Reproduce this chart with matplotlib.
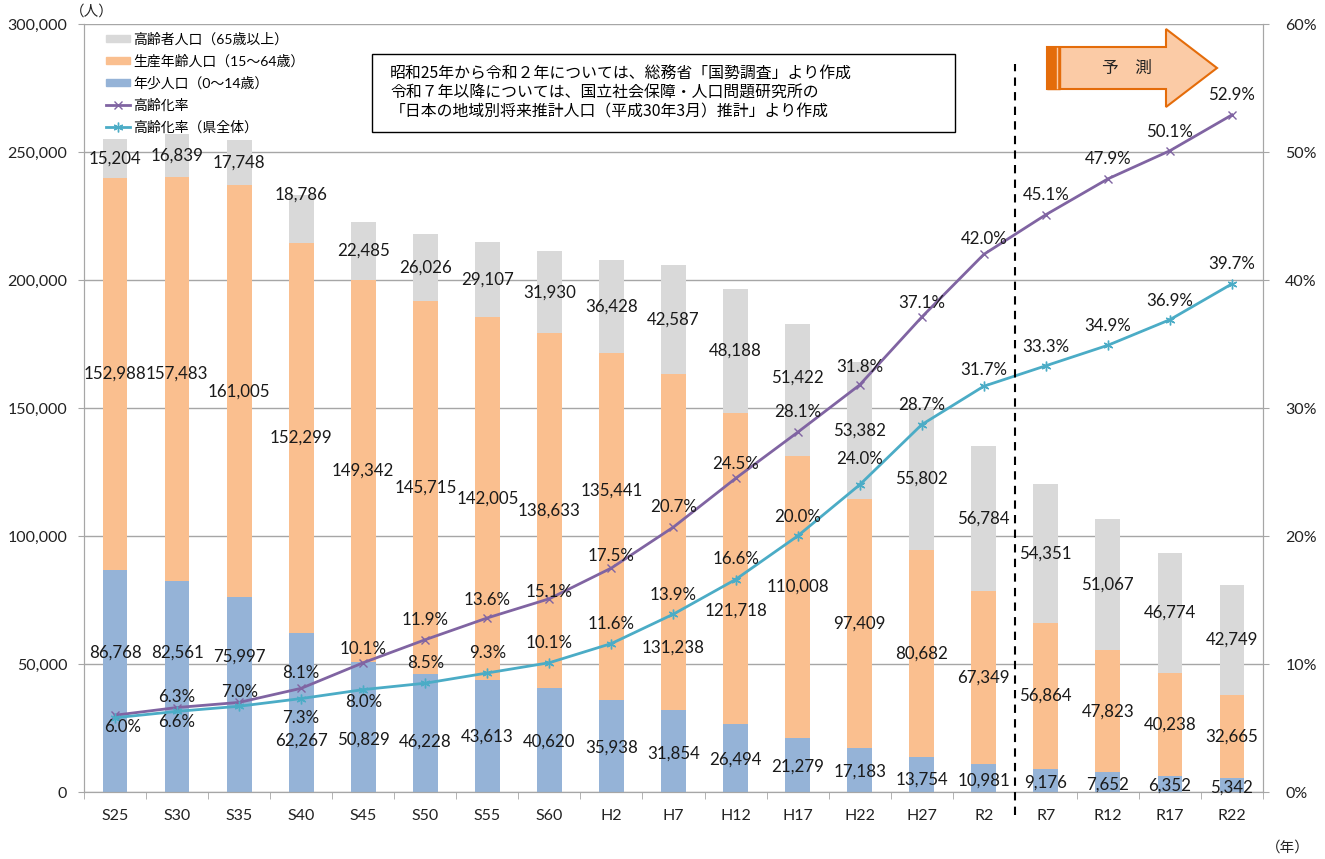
import matplotlib
matplotlib.use('Agg')
import matplotlib.pyplot as plt
import numpy as np
from matplotlib.patches import Patch, Polygon, Rectangle
from matplotlib.lines import Line2D
from matplotlib.ticker import FuncFormatter, FixedLocator

plt.rcParams['font.family'] = ['Lato', 'Noto Sans CJK JP', 'DejaVu Sans']

# data
categories = ['S25', 'S30', 'S35', 'S40', 'S45', 'S50', 'S55', 'S60', 'H2', 'H7',
              'H12', 'H17', 'H22', 'H27', 'R2', 'R7', 'R12', 'R17', 'R22']
young = [86768, 82561, 75997, 62267, 50829, 46228, 43613, 40620, 35938, 31854,
         26494, 21279, 17183, 13754, 10981, 9176, 7652, 6352, 5342]
working = [152988, 157483, 161005, 152299, 149342, 145715, 142005, 138633, 135441, 131238,
           121718, 110008, 97409, 80682, 67349, 56864, 47823, 40238, 32665]
elderly = [15204, 16839, 17748, 18786, 22485, 26026, 29107, 31930, 36428, 42587,
           48188, 51422, 53382, 55802, 56784, 54351, 51067, 46774, 42749]
rate = [6.0, 6.6, 7.0, 8.1, 10.1, 11.9, 13.6, 15.1, 17.5, 20.7,
        24.5, 28.1, 31.8, 37.1, 42.0, 45.1, 47.9, 50.1, 52.9]
rate_pref = [5.8, 6.3, 6.7, 7.3, 8.0, 8.5, 9.3, 10.1, 11.6, 13.9,
             16.6, 20.0, 24.0, 28.7, 31.7, 33.3, 34.9, 36.9, 39.7]
pref_labelled = [False, True, False] + [True] * 16

# label nudges in pixels (up = positive), as placed in the original
young_dy = [28, 34, 38, -28, -13, -9, 0, -2, -2, -2, -2, -2, -2, -5, -3, -2, -2, -2, -2]
working_dy = [0, 5, 0, 0, 0, 0, 0, 0, 36, -105, -42, 10, 0, 0, 0, 0, 0, 0, 0]
elderly_dy = [0, 0, 0, 24, 0, 0, 0, 0, 0, 0, 0, 12, 0, 0, 0, 0, 0, 0, 0]
rate_dy = [-12, -14, 10, 15, 14, 20, 18, 7, 12, 20, 14, 20, 18, 14, 15, 20, 20, 19, 20]
pref_dy = [0, 14, 0, -19, -12, 20, 20, 20, 20, 19, 21, 19, 26, 20, 16, 19, 19, 19, 20]

c_young = '#95B3D7'
c_work = '#FABF8F'
c_old = '#D9D9D9'
c_rate = '#8064A2'
c_pref = '#4BACC6'
grid_c = '#A6A6A6'

W, H = 1325, 859
fig = plt.figure(figsize=(W / 100, H / 100), dpi=100)
ax = fig.add_axes([84 / W, 1 - 792 / H, (1263 - 84) / W, (792 - 24) / H])
ax2 = ax.twinx()

x = np.arange(len(categories))
young_a = np.array(young)
work_a = np.array(working)
old_a = np.array(elderly)
bw = 0.4

ax.bar(x, young_a, bw, color=c_young, zorder=2)
ax.bar(x, work_a, bw, bottom=young_a, color=c_work, zorder=2)
ax.bar(x, old_a, bw, bottom=young_a + work_a, color=c_old, zorder=2)

ax.set_xlim(-0.5, len(categories) - 0.5)
ax.set_ylim(0, 300000)
ax.set_yticks(np.arange(0, 300001, 50000))
ax.yaxis.set_major_formatter(FuncFormatter(lambda v, p: f'{int(v):,}'))
ax.grid(axis='y', color=grid_c, linewidth=1, zorder=0)
ax.set_axisbelow(True)
ax.set_xticks(x)
ax.set_xticklabels(categories)
ax.xaxis.set_minor_locator(FixedLocator(np.arange(-0.5, len(categories), 1.0)))
ax.tick_params(axis='x', which='major', length=0, pad=12, labelsize=11.5, colors='#222222')
ax.tick_params(axis='x', which='minor', length=5, color=grid_c, direction='out')
ax.tick_params(axis='y', length=4, color=grid_c, labelsize=11.5, colors='#222222', pad=8)

for sp in ['top']:
    ax.spines[sp].set_visible(False)
    ax2.spines[sp].set_visible(False)
for sp in ['left', 'bottom', 'right']:
    ax.spines[sp].set_color(grid_c)
    ax2.spines[sp].set_color(grid_c)

# rate lines
ax2.plot(x, rate, color=c_rate, lw=2, marker='x', ms=6, mew=1, zorder=3)
ax2.plot(x, rate_pref, color=c_pref, lw=2, marker=(6, 2, 0), ms=7, mew=1, zorder=3)
ax2.set_ylim(0, 60)
ax2.set_yticks(np.arange(0, 61, 10))
ax2.yaxis.set_major_formatter(FuncFormatter(lambda v, p: f'{int(v)}%'))
ax2.tick_params(axis='y', length=4, color=grid_c, labelsize=11.5, colors='#222222', pad=12)

lab_fs = 12.2
txt_c = '#1a1a1a'
for i in range(len(categories)):
    ax2.annotate(f'{young[i]:,}', xy=(x[i], young[i] / 2), xycoords=ax.transData,
                 xytext=(0, young_dy[i]), textcoords='offset pixels',
                 ha='center', va='center', fontsize=lab_fs, color=txt_c, zorder=5)
    ax2.annotate(f'{working[i]:,}', xy=(x[i], young[i] + working[i] / 2), xycoords=ax.transData,
                 xytext=(0, working_dy[i]), textcoords='offset pixels',
                 ha='center', va='center', fontsize=lab_fs, color=txt_c, zorder=5)
    ax2.annotate(f'{elderly[i]:,}', xy=(x[i], young[i] + working[i] + elderly[i] / 2),
                 xycoords=ax.transData, xytext=(0, elderly_dy[i]), textcoords='offset pixels',
                 ha='center', va='center', fontsize=lab_fs, color=txt_c, zorder=5)
    ax2.annotate(f'{rate[i]:.1f}%', xy=(x[i], rate[i]), xytext=(8 if i == 0 else 0, rate_dy[i]),
                 textcoords='offset pixels', ha='center', va='center',
                 fontsize=lab_fs, color=txt_c, zorder=5)
    if pref_labelled[i]:
        ax2.annotate(f'{rate_pref[i]:.1f}%', xy=(x[i], rate_pref[i]), xytext=(0, pref_dy[i]),
                     textcoords='offset pixels', ha='center', va='center',
                     fontsize=lab_fs, color=txt_c, zorder=5)

# forecast boundary
ax2.axvline(14.5, ymin=-0.03, ymax=0.948, color='black', lw=1.5,
            linestyle=(0, (4, 3)), clip_on=False, zorder=4)

# legend
handles = [Patch(color=c_old), Patch(color=c_work), Patch(color=c_young),
           Line2D([], [], color=c_rate, lw=2, marker='x', ms=6),
           Line2D([], [], color=c_pref, lw=2, marker=(6, 2, 0), ms=7)]
labels = ['高齢者人口（65歳以上）', '生産年齢人口（15〜64歳）', '年少人口（0〜14歳）',
          '高齢化率', '高齢化率（県全体）']
ax2.legend(handles, labels, loc='upper left', bbox_to_anchor=(0.012, 1.0), frameon=False,
           fontsize=10, handlelength=1.7, handleheight=0.45, handletextpad=0.2,
           labelspacing=0.62, borderaxespad=0.2)


def fx(px):
    return px / W


def fy(py):
    return 1 - py / H


# source note box
fig.add_artist(Rectangle((fx(372), fy(132)), fx(955) - fx(372), fy(54) - fy(132),
                         transform=fig.transFigure, fill=False, ec='black', lw=1))
fig.text(fx(390), fy(93),
         '昭和25年から令和２年については、総務省「国勢調査」より作成\n'
         '令和７年以降については、国立社会保障・人口問題研究所の\n'
         '「日本の地域別将来推計人口（平成30年3月）推計」より作成',
         ha='left', va='center', fontsize=11.4, linespacing=1.12,
         family=['Noto Sans CJK JP', 'DejaVu Sans'])

# forecast arrow
arrow_px = [(1047, 47), (1166, 47), (1166, 29), (1217, 68), (1166, 107), (1166, 89), (1047, 89)]
fig.add_artist(Polygon([(fx(a), fy(b)) for a, b in arrow_px], closed=True,
                       transform=fig.transFigure, fc='#FBCBA6', ec='#E46C0A', lw=1.5))
fig.add_artist(Rectangle((fx(1047), fy(89)), fx(1060) - fx(1047), fy(47) - fy(89),
                         transform=fig.transFigure, fc='#E46C0A', ec='#E46C0A', lw=1))
fig.add_artist(Line2D([fx(1057), fx(1057)], [fy(48), fy(88)], transform=fig.transFigure,
                      color='#FBCBA6', lw=1))
fig.text(fx(1127), fy(68), '予　測', ha='center', va='center', fontsize=12,
         family=['Noto Sans CJK JP'], color='#222222')

# axis unit labels
fig.text(fx(92), fy(12), '（人）', ha='center', va='center', fontsize=10.5,
         family=['Noto Sans CJK JP'], color='#222222')
fig.text(fx(1288), fy(848), '（年）', ha='center', va='center', fontsize=10.5,
         family=['Noto Sans CJK JP'], color='#222222')

fig.savefig('out.png', dpi=100)
